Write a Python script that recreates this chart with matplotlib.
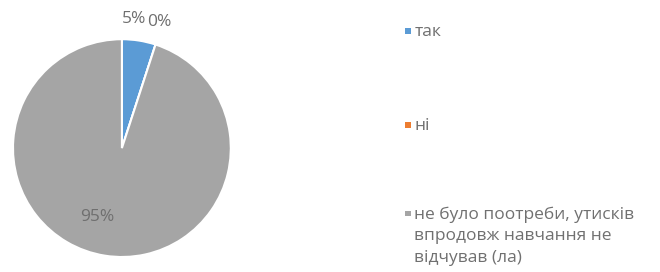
import matplotlib.pyplot as plt
import numpy as np

labels = ['так', 'ні', 'не було поотреби, утисків\nвпродовж навчання не\nвідчував (ла)']
values = [5, 0, 95]
pct_text = ['5%', '0%', '95%']
colors = ['#5B9BD5', '#ED7D31', '#A5A5A5']

plt.rcParams['font.family'] = ['Open Sans', 'DejaVu Sans']

fig = plt.figure(figsize=(6.6, 2.72), dpi=100)
ax = fig.add_axes([0.0197, 0.055, 0.330, 0.801])
wedges, _ = ax.pie(values, colors=colors, startangle=90, counterclock=False,
                   wedgeprops=dict(edgecolor='white', linewidth=1.5))
ax.set_xlim(-1, 1)
ax.set_ylim(-1, 1)
ax.set_aspect('equal')

# percentage labels, placed from the wedge mid angles
dist = [1.19, 1.21, 0.67]
shift = [3.6, 1.5, -11]
for w, t, d, s in zip(wedges, pct_text, dist, shift):
    ang = np.deg2rad((w.theta1 + w.theta2) / 2 + s)
    ax.text(d * np.cos(ang), d * np.sin(ang), t, ha='center', va='center',
            fontsize=12.5, color='#6f6f6f')

# legend drawn by hand so the marker sits on the first line
lax = fig.add_axes([0, 0, 1, 1])
lax.set_xlim(0, 1)
lax.set_ylim(0, 1)
lax.axis('off')
row_y = [0.886, 0.540, 0.215]
for y, c, lab in zip(row_y, colors, labels):
    lax.scatter([0.618], [y], marker='s', s=18, color=c, edgecolors='none')
    lax.text(0.628, y + 0.026, lab, ha='left', va='top', fontsize=12.5,
             color='#707070', linespacing=1.45)

fig.savefig('out.png', dpi=100)
